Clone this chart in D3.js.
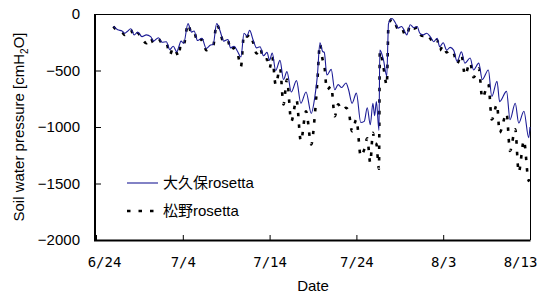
<!DOCTYPE html>
<html>
<head>
<meta charset="utf-8">
<script src="https://cdn.jsdelivr.net/npm/d3@7"></script>
<style>
  body { margin: 0; background: #fff; }
  text { font-family: "Liberation Sans", Arial, "Noto Sans CJK JP", sans-serif; }
</style>
</head>
<body>
<svg id="chart" width="544" height="293"></svg>
<script>
// time in days after 6/24, values in cmH2O
const days = [
  2.0, 2.5, 3.0, 3.3, 3.6, 4.0, 4.4, 4.8, 5.3, 5.8, 6.3, 6.6, 7.2, 7.6, 8.1, 8.5, 8.9, 9.3, 9.5, 9.8,
  10.1, 10.6, 11.0, 11.3, 11.7, 12.2, 12.7, 13.2, 13.5, 13.9, 14.3, 14.7, 15.2, 15.5, 15.9, 16.3, 16.7,
  17.05, 17.4, 17.7, 18.1, 18.5, 18.9, 19.3, 19.7, 20.0, 20.3, 20.7, 21.2, 21.6, 22.0, 22.5, 23.1, 23.6,
  24.2, 24.8, 25.2, 25.5, 25.8, 26.1, 26.3, 26.6, 27.1, 27.5, 27.9, 28.3, 28.8, 29.1, 29.5, 30.0, 30.5,
  30.9, 31.25, 31.6, 31.9, 32.1, 32.3, 32.6, 32.7, 33.1, 33.5, 33.7, 34.1, 34.5, 34.8, 35.2, 35.6, 35.8,
  36.2, 36.6, 37.0, 37.3, 37.7, 38.1, 38.5, 38.9, 39.3, 39.6, 40.0, 40.4, 40.8, 41.2, 41.6, 42.1, 42.5,
  43.1, 43.5, 44.1, 44.5, 45.2, 45.6, 46.2, 46.5, 47.3, 47.7, 48.3, 48.7, 49.3, 49.85, 50.0
];
const okubo = [
  -110, -140, -150, -170, -155, -130, -185, -160, -200, -185, -200, -240, -210, -250, -245, -315, -285, -335, -300, -240,
  -260, -85, -160, -150, -235, -215, -305, -275, -270, -85, -150, -240, -225, -300, -285, -330, -380,
  -170, -195, -145, -230, -300, -290, -370, -340, -410, -345, -500, -410, -580, -510, -690, -590, -790,
  -690, -880, -740, -550, -255, -330, -340, -540, -490, -670, -625, -650, -610, -670, -790, -700, -960,
  -950, -830, -980, -790, -900, -775, -1030, -320, -400, -550, -85, -40, -80, -125, -110, -160, -185,
  -95, -120, -110, -170, -185, -170, -200, -245, -215, -290, -255, -320, -295, -320, -420, -335, -435,
  -390, -495, -435, -580, -495, -730, -595, -775, -685, -935, -790, -965, -860, -1095, -1000
];
const matsuno = [
  -110, -150, -160, -185, -160, -140, -200, -170, -220, -258, -210, -255, -220, -258, -255, -360, -300, -345, -376, -260,
  -270, -90, -170, -160, -250, -225, -320, -290, -280, -90, -160, -250, -235, -320, -300, -345, -465,
  -180, -200, -180, -250, -350, -300, -400, -400, -480, -380, -626, -480, -800, -580, -950, -760, -1125,
  -860, -1155, -905, -600, -265, -400, -450, -670, -640, -905, -800, -850, -830, -860, -1037, -934, -1257,
  -1200, -1100, -1316, -1051, -1139, -1150, -1370, -330, -464, -630, -95, -45, -90, -135, -120, -185, -190,
  -100, -130, -120, -180, -195, -180, -215, -260, -230, -320, -280, -340, -320, -345, -440, -360, -540,
  -430, -560, -480, -743, -620, -934, -800, -1050, -880, -1213, -1020, -1400, -1120, -1477, -1400
];
const seriesNames = ["大久保rosetta", "松野rosetta"];
const xTickLabels = ["6/24", "7/4", "7/14", "7/24", "8/3", "8/13"];
const yTicks = [0, -500, -1000, -1500, -2000];

const svg = d3.select("#chart");
const plot = { left: 96, right: 530, top: 14, bottom: 240 };

const parseTick = d3.timeParse("%m/%d");
const tickDates = xTickLabels.map(parseTick);
const start = tickDates[0];
const toDate = d => new Date(start.getTime() + d * 864e5);

const x = d3.scaleTime()
  .domain([start, tickDates[tickDates.length - 1]])
  .range([plot.left, plot.right]);
const y = d3.scaleLinear()
  .domain([-2000, 0])
  .range([plot.bottom, plot.top]);

// x axis
const xAxis = svg.append("g")
  .attr("transform", `translate(0,${plot.bottom})`)
  .call(d3.axisBottom(x)
    .tickValues(tickDates)
    .tickFormat(d3.timeFormat("%-m/%-d"))
    .tickSize(-5)
    .tickPadding(17));
xAxis.select(".domain").remove();
xAxis.selectAll("text")
  .attr("fill", "#000")
  .attr("font-size", 14)
  .style("font-family", "'DejaVu Sans Mono', monospace")
  // edge labels are pulled inside like the original
  .attr("x", (d, i) => i === 0 ? 8 : (i === tickDates.length - 1 ? -10 : 0));
xAxis.selectAll("line").attr("stroke", "#000");

// y axis
const yAxis = svg.append("g")
  .attr("transform", `translate(${plot.left},0)`)
  .call(d3.axisLeft(y)
    .tickValues(yTicks)
    .tickFormat(d3.format("d"))
    .tickSize(-5)
    .tickPadding(16));
yAxis.select(".domain").remove();
yAxis.selectAll("text").attr("font-size", 15).attr("fill", "#000");
yAxis.selectAll("line").attr("stroke", "#000");

// frame
svg.append("path")
  .attr("d", `M${plot.left},${plot.top + 0.5}H${plot.right + 0.5}V${plot.bottom}`)
  .attr("fill", "none").attr("stroke", "#000").attr("stroke-width", 1);
svg.append("path")
  .attr("d", `M${plot.left - 1},${plot.top}V${plot.bottom + 0.5}H${plot.right + 0.5}`)
  .attr("fill", "none").attr("stroke", "#000").attr("stroke-width", 2);

// lines
const line = d3.line()
  .x((d, i) => x(toDate(days[i])))
  .y(d => y(d))
  .curve(d3.curveMonotoneX);

svg.append("path")
  .datum(matsuno)
  .attr("d", line)
  .attr("fill", "none")
  .attr("stroke", "#000")
  .attr("stroke-width", 2.6)
  .attr("stroke-dasharray", "3.5,8");

svg.append("path")
  .datum(okubo)
  .attr("d", line)
  .attr("fill", "none")
  .attr("stroke", "#1c1c96")
  .attr("stroke-width", 1.1);

// legend
const legend = svg.append("g");
const styles = [
  { stroke: "#1c1c96", width: 1.1, dash: null },
  { stroke: "#000", width: 2.6, dash: "3.5,8" }
];
seriesNames.forEach((name, i) => {
  const ly = 183 + i * 28;
  legend.append("line")
    .attr("x1", 127).attr("x2", i === 0 ? 158 : 156)
    .attr("y1", ly).attr("y2", ly)
    .attr("stroke", styles[i].stroke)
    .attr("stroke-width", styles[i].width)
    .attr("stroke-dasharray", styles[i].dash);
  legend.append("text")
    .attr("x", 163).attr("y", ly)
    .attr("dy", "0.35em")
    .attr("font-size", 15)
    .text(name);
});

// axis titles
svg.append("text")
  .attr("x", (plot.left + plot.right) / 2)
  .attr("y", 291)
  .attr("text-anchor", "middle")
  .attr("font-size", 15)
  .text("Date");

const yTitle = svg.append("text")
  .attr("transform", `translate(24,${(plot.top + plot.bottom) / 2}) rotate(-90)`)
  .attr("text-anchor", "middle")
  .attr("font-size", 15);
yTitle.append("tspan").text("Soil water pressure [cmH");
yTitle.append("tspan").attr("font-size", 10).attr("dy", 4).text("2");
yTitle.append("tspan").attr("dy", -4).text("O]");
</script>
</body>
</html>
